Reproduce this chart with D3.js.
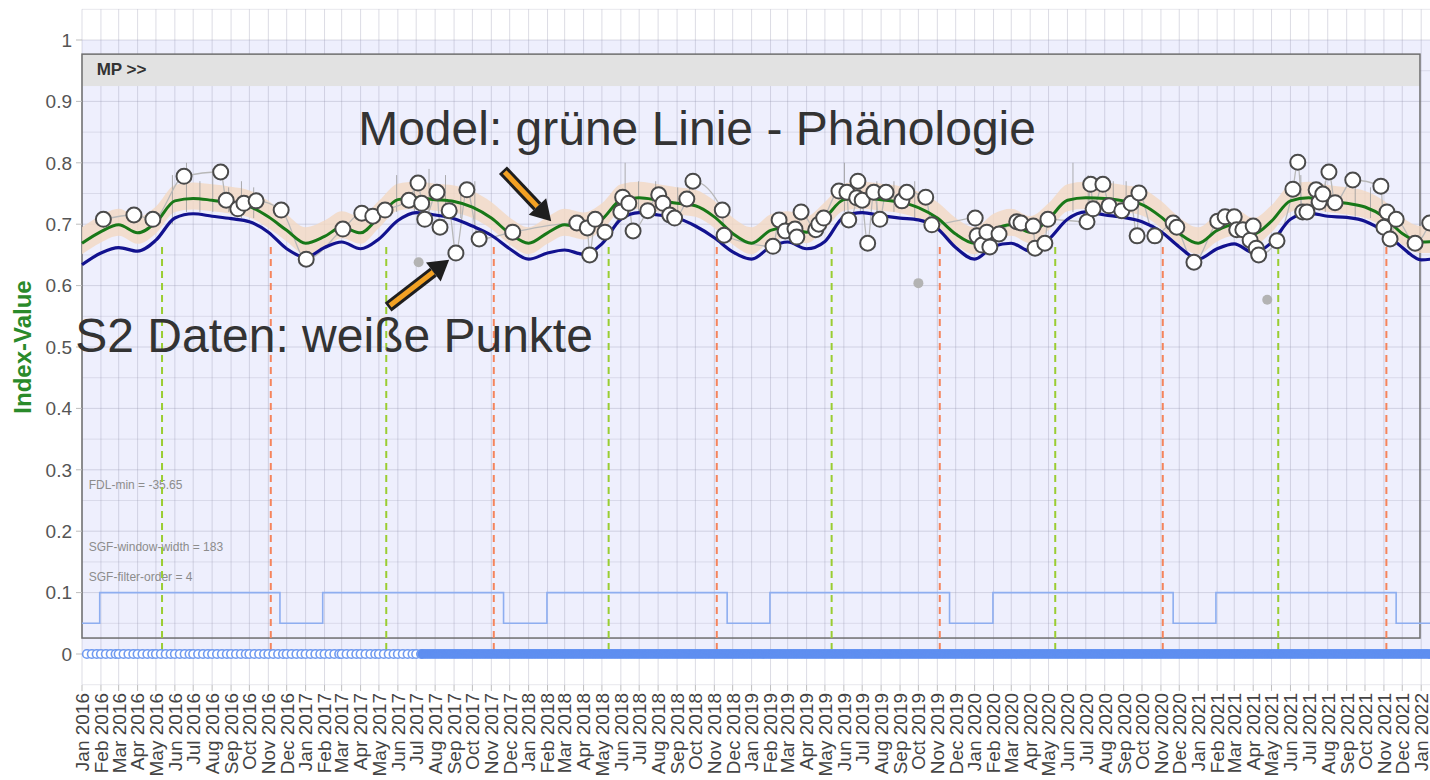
<!DOCTYPE html>
<html>
<head>
<meta charset="utf-8">
<script src="https://cdn.jsdelivr.net/npm/d3@7"></script>
<style>
  body { margin: 0; background: #fff; }
  svg { display: block; font-family: "Liberation Sans", Arial, sans-serif; }
</style>
</head>
<body>
<div id="chart"></div>
<script>
// ---- data ----
const curveStart = "2016-01-01";   // first month of the monthly model values

const bluePheno = [
  0.634, 0.653, 0.662, 0.656, 0.674, 0.710, 0.717, 0.713, 0.709, 0.704, 0.687, 0.660,
  0.646, 0.662, 0.671, 0.660, 0.676, 0.706, 0.719, 0.715, 0.709, 0.697, 0.682, 0.660,
  0.643, 0.653, 0.658, 0.651, 0.668, 0.708, 0.719, 0.715, 0.710, 0.697, 0.678, 0.655,
  0.643, 0.663, 0.671, 0.660, 0.672, 0.712, 0.719, 0.714, 0.710, 0.707, 0.693, 0.662,
  0.643, 0.664, 0.669, 0.656, 0.675, 0.708, 0.720, 0.715, 0.711, 0.704, 0.688, 0.663,
  0.643, 0.660, 0.668, 0.654, 0.670, 0.708, 0.718, 0.713, 0.711, 0.705, 0.688, 0.662,
  0.642, 0.645
];

const greenModel = [
  0.669, 0.688, 0.699, 0.686, 0.703, 0.738, 0.742, 0.739, 0.735, 0.729, 0.712, 0.690,
  0.669, 0.680, 0.695, 0.686, 0.712, 0.740, 0.743, 0.740, 0.737, 0.728, 0.710, 0.685,
  0.669, 0.686, 0.699, 0.693, 0.708, 0.739, 0.743, 0.739, 0.734, 0.730, 0.712, 0.685,
  0.669, 0.690, 0.695, 0.687, 0.710, 0.740, 0.743, 0.740, 0.736, 0.727, 0.710, 0.684,
  0.669, 0.691, 0.699, 0.687, 0.708, 0.739, 0.743, 0.742, 0.738, 0.732, 0.712, 0.685,
  0.669, 0.690, 0.699, 0.684, 0.705, 0.738, 0.743, 0.738, 0.734, 0.728, 0.712, 0.685,
  0.671, 0.672
];

const bandUpper = [
  0.695, 0.714, 0.725, 0.712, 0.729, 0.764, 0.768, 0.765, 0.761, 0.755, 0.738, 0.716,
  0.695, 0.706, 0.721, 0.712, 0.738, 0.766, 0.769, 0.766, 0.763, 0.754, 0.736, 0.711,
  0.695, 0.712, 0.725, 0.719, 0.734, 0.765, 0.769, 0.765, 0.760, 0.756, 0.738, 0.711,
  0.695, 0.716, 0.721, 0.713, 0.736, 0.766, 0.769, 0.766, 0.762, 0.753, 0.736, 0.710,
  0.695, 0.717, 0.725, 0.713, 0.734, 0.765, 0.769, 0.768, 0.764, 0.758, 0.738, 0.711,
  0.695, 0.716, 0.725, 0.710, 0.731, 0.764, 0.769, 0.764, 0.760, 0.754, 0.738, 0.711,
  0.697, 0.698
];

const bandLower = [
  0.651, 0.670, 0.681, 0.668, 0.685, 0.720, 0.724, 0.721, 0.717, 0.711, 0.694, 0.672,
  0.651, 0.662, 0.677, 0.668, 0.694, 0.722, 0.725, 0.722, 0.719, 0.710, 0.692, 0.667,
  0.651, 0.668, 0.681, 0.675, 0.690, 0.721, 0.725, 0.721, 0.716, 0.712, 0.694, 0.667,
  0.651, 0.672, 0.677, 0.669, 0.692, 0.722, 0.725, 0.722, 0.718, 0.709, 0.692, 0.666,
  0.651, 0.673, 0.681, 0.669, 0.690, 0.721, 0.725, 0.724, 0.720, 0.714, 0.694, 0.667,
  0.651, 0.672, 0.681, 0.666, 0.687, 0.720, 0.725, 0.720, 0.716, 0.710, 0.694, 0.667,
  0.653, 0.654
];

// Sentinel-2 observations (white points)
const s2Points = [
  ["2016-02-05",0.708],["2016-03-26",0.715],["2016-04-26",0.708],["2016-06-16",0.778],
  ["2016-08-15",0.785],["2016-08-24",0.739],["2016-09-12",0.725],["2016-09-22",0.734],
  ["2016-10-12",0.738],["2016-11-22",0.723],["2017-01-02",0.643],["2017-03-03",0.692],
  ["2017-04-03",0.718],["2017-04-21",0.713],["2017-05-11",0.723],["2017-06-19",0.739],
  ["2017-07-04",0.767],["2017-07-10",0.734],["2017-07-15",0.708],["2017-08-04",0.752],
  ["2017-08-09",0.695],["2017-08-24",0.722],["2017-09-04",0.653],["2017-09-22",0.756],
  ["2017-10-12",0.676],["2017-12-06",0.687],["2018-03-21",0.702],["2018-04-07",0.694],
  ["2018-04-11",0.650],["2018-04-20",0.708],["2018-05-06",0.687],["2018-06-01",0.720],
  ["2018-06-04",0.744],["2018-06-14",0.734],["2018-06-21",0.689],["2018-07-15",0.722],
  ["2018-08-02",0.748],["2018-08-09",0.734],["2018-08-20",0.715],["2018-08-28",0.710],
  ["2018-09-17",0.741],["2018-09-27",0.770],["2018-11-14",0.723],["2018-11-17",0.682],
  ["2019-02-05",0.664],["2019-02-15",0.707],["2019-02-25",0.689],["2019-03-13",0.692],
  ["2019-03-16",0.679],["2019-03-23",0.720],["2019-04-16",0.691],["2019-04-21",0.700],
  ["2019-04-29",0.710],["2019-05-24",0.754],["2019-06-06",0.752],["2019-06-09",0.707],
  ["2019-06-22",0.743],["2019-06-24",0.770],["2019-07-01",0.739],["2019-07-10",0.669],
  ["2019-07-20",0.752],["2019-07-30",0.708],["2019-08-09",0.752],["2019-09-04",0.738],
  ["2019-09-12",0.752],["2019-10-13",0.744],["2019-10-23",0.699],["2020-01-02",0.710],
  ["2020-01-05",0.681],["2020-01-13",0.666],["2020-01-21",0.687],["2020-01-26",0.663],
  ["2020-02-10",0.684],["2020-03-10",0.704],["2020-03-17",0.702],["2020-04-06",0.697],
  ["2020-04-09",0.661],["2020-04-25",0.669],["2020-04-30",0.708],["2020-07-03",0.704],
  ["2020-07-09",0.765],["2020-07-13",0.725],["2020-07-29",0.765],["2020-08-08",0.730],
  ["2020-08-29",0.722],["2020-09-13",0.734],["2020-09-23",0.681],["2020-09-26",0.751],
  ["2020-10-22",0.681],["2020-11-21",0.702],["2020-11-27",0.695],["2020-12-25",0.638],
  ["2021-02-02",0.705],["2021-02-14",0.712],["2021-03-01",0.712],["2021-03-05",0.691],
  ["2021-03-15",0.691],["2021-03-27",0.674],["2021-04-01",0.697],["2021-04-06",0.661],
  ["2021-04-10",0.650],["2021-05-10",0.673],["2021-06-05",0.757],["2021-06-13",0.801],
  ["2021-06-21",0.720],["2021-06-28",0.720],["2021-07-13",0.756],["2021-07-18",0.736],
  ["2021-07-24",0.749],["2021-08-03",0.785],["2021-08-13",0.735],["2021-09-11",0.772],
  ["2021-10-27",0.762],["2021-11-01",0.695],["2021-11-06",0.720],["2021-11-11",0.676],
  ["2021-11-21",0.708],["2021-12-22",0.669],["2022-01-15",0.702]
];

// rejected observations (grey dots)
const outliers = [["2017-07-05",0.638],["2019-10-01",0.604],["2021-04-24",0.577]];

// spikes of the daily raw series: [date, low, high]
const rawSpikes = [
  ["2016-05-28",0.70,0.78],["2016-06-20",0.72,0.80],["2016-07-12",0.72,0.77],["2016-08-02",0.72,0.79],
  ["2016-08-28",0.72,0.76],["2016-09-18",0.71,0.77],["2016-10-08",0.71,0.76],
  ["2017-05-30",0.72,0.78],["2017-06-28",0.72,0.77],["2017-07-22",0.72,0.79],["2017-08-18",0.72,0.78],
  ["2017-09-12",0.71,0.76],["2017-10-05",0.70,0.77],
  ["2018-06-08",0.72,0.80],["2018-06-30",0.72,0.77],["2018-07-28",0.72,0.77],["2018-09-02",0.71,0.76],
  ["2019-06-02",0.72,0.80],["2019-06-28",0.72,0.78],["2019-07-25",0.72,0.77],["2019-08-22",0.72,0.77],
  ["2019-09-25",0.71,0.77],
  ["2020-06-10",0.72,0.80],["2020-07-05",0.72,0.78],["2020-08-15",0.72,0.77],["2020-09-05",0.72,0.77],
  ["2021-06-18",0.72,0.78],["2021-07-28",0.72,0.77],["2021-09-15",0.71,0.77],["2021-10-10",0.71,0.76]
];

// season start (green) and end (red) markers
const sosDates = ["2016-05-11","2017-05-13","2018-05-12","2019-05-12","2020-05-12","2021-05-12"];
const eosDates = ["2016-11-05","2017-11-05","2018-11-05","2019-11-05","2020-11-04","2021-11-05"];
const markerTop = 0.663;

// growing season flag (step line)
const flagDates  = ["2016-01-01","2016-01-30","2016-11-20","2017-01-29","2017-11-21","2018-01-31",
                    "2018-11-22","2019-01-31","2019-11-21","2020-01-31","2020-11-21","2021-01-30",
                    "2021-11-21","2022-02-15"];
const flagValues = [0.05, 0.1, 0.05, 0.1, 0.05, 0.1, 0.05, 0.1, 0.05, 0.1, 0.05, 0.1, 0.05, 0.05];

// zero-row observation markers
const sparseObs = { from: "2016-01-03", to: "2017-07-10", everyDays: 8 };
const denseObs  = { from: "2017-07-10", to: "2022-02-15" };

const yTicks = [0, 0.1, 0.2, 0.3, 0.4, 0.5, 0.6, 0.7, 0.8, 0.9, 1];
const paramLabels = [
  ["FDL-min = -35.65", 0.269],
  ["SGF-window-width = 183", 0.168],
  ["SGF-filter-order = 4", 0.119]
];

// ---- chart ----
const width = 1430, height = 780;
const parse = d3.timeParse("%Y-%m-%d");

const x = d3.scaleTime()
  .domain([new Date(2016, 0, 1), new Date(2022, 0, 1)])
  .range([82, 1421.2]);

const y = d3.scaleLinear()
  .domain([-0.05, 1.05])
  .range([684.7, 9.3]);

const svg = d3.select("#chart")
  .append("svg")
  .attr("width", width)
  .attr("height", height)
  .attr("viewBox", [0, 0, width, height]);

const months = d3.timeMonth.range(parse(curveStart), new Date(2022, 2, 1));
const plotRight = width + 20;

// lavender background between 0 and 1
svg.append("rect")
  .attr("x", x(months[0]))
  .attr("y", y(1))
  .attr("width", plotRight - x(months[0]))
  .attr("height", y(0) - y(1))
  .attr("fill", "#eeeffd");

// grid
const grid = svg.append("g").attr("stroke", "rgba(140,140,165,0.3)").attr("stroke-width", 1);
grid.selectAll(".h")
  .data(d3.range(-0.05, 1.0501, 0.05))
  .join("line")
  .attr("x1", x(months[0])).attr("x2", plotRight)
  .attr("y1", d => y(d)).attr("y2", d => y(d))
  .attr("stroke-opacity", (d, i) => i % 2 === 1 ? 1 : 0.7);
grid.selectAll(".v")
  .data(months)
  .join("line")
  .attr("x1", d => x(d)).attr("x2", d => x(d))
  .attr("y1", y(1.05)).attr("y2", y(-0.05));

// facet box with strip
const boxLeft = x(parse("2016-01-01")), boxRight = x(parse("2021-12-30"));
svg.append("rect")
  .attr("x", boxLeft).attr("y", y(0.977))
  .attr("width", boxRight - boxLeft).attr("height", y(0.925) - y(0.977))
  .attr("fill", "#e2e2e2");
svg.append("rect")
  .attr("x", boxLeft).attr("y", y(0.977))
  .attr("width", boxRight - boxLeft).attr("height", y(0.026) - y(0.977))
  .attr("fill", "none").attr("stroke", "#6e6e6e").attr("stroke-width", 1.5);
svg.append("text")
  .attr("x", x(parse("2016-01-25"))).attr("y", y(0.943))
  .attr("font-size", 17).attr("font-weight", "bold").attr("fill", "#333")
  .text("MP >>");

// parameter labels
svg.append("g").selectAll("text")
  .data(paramLabels)
  .join("text")
  .attr("x", x(parse("2016-01-12")))
  .attr("y", d => y(d[1]))
  .attr("font-size", 12).attr("fill", "#8c8c8c")
  .text(d => d[0]);

// y axis
const yAxis = svg.append("g");
yAxis.selectAll("line")
  .data(yTicks).join("line")
  .attr("x1", 76).attr("x2", 82)
  .attr("y1", d => y(d)).attr("y2", d => y(d))
  .attr("stroke", "#bdbdbd");
yAxis.selectAll("text")
  .data(yTicks).join("text")
  .attr("x", 72).attr("y", d => y(d)).attr("dy", "0.36em")
  .attr("text-anchor", "end").attr("font-size", 19).attr("fill", "#555")
  .text(d => d3.format("~g")(d));

svg.append("text")
  .attr("transform", `translate(31,${y(0.5)}) rotate(-90)`)
  .attr("text-anchor", "middle")
  .attr("font-size", 24).attr("font-weight", "bold").attr("fill", "#2a8a2a")
  .text("Index-Value");

// x axis
const xAxis = svg.append("g");
const tickMonths = months.filter(d => d <= new Date(2022, 0, 1));
xAxis.selectAll("line")
  .data(tickMonths).join("line")
  .attr("x1", d => x(d)).attr("x2", d => x(d))
  .attr("y1", 685).attr("y2", 691)
  .attr("stroke", "#bdbdbd");
xAxis.selectAll("text")
  .data(tickMonths).join("text")
  .attr("transform", d => `translate(${x(d)},693) rotate(-90)`)
  .attr("dy", "0.36em").attr("text-anchor", "end")
  .attr("font-size", 19).attr("fill", "#444")
  .text(d3.timeFormat("%b %Y"));

// step flag line
const flagData = flagDates.map((d, i) => ({ date: parse(d), value: flagValues[i] }));
svg.append("path")
  .datum(flagData)
  .attr("fill", "none").attr("stroke", "#8eaef0").attr("stroke-width", 1.6)
  .attr("d", d3.line().x(d => x(d.date)).y(d => y(d.value)).curve(d3.curveStepAfter));

// season markers
const markers = svg.append("g").attr("stroke-width", 2).attr("stroke-dasharray", "7,5");
markers.selectAll(".sos")
  .data(sosDates).join("line")
  .attr("stroke", "#9acd32")
  .attr("x1", d => x(parse(d))).attr("x2", d => x(parse(d)))
  .attr("y1", y(markerTop)).attr("y2", y(0));
markers.selectAll(".eos")
  .data(eosDates).join("line")
  .attr("stroke", "#f5845c")
  .attr("x1", d => x(parse(d))).attr("x2", d => x(parse(d)))
  .attr("y1", y(markerTop)).attr("y2", y(0));

// model band and curves
const curveData = months.slice(0, greenModel.length).map((m, i) => ({
  date: m, green: greenModel[i], blue: bluePheno[i], lo: bandLower[i], hi: bandUpper[i]
}));

svg.append("path")
  .datum(curveData)
  .attr("fill", "#f3d8c2").attr("fill-opacity", 0.8)
  .attr("d", d3.area().x(d => x(d.date)).y0(d => y(d.lo)).y1(d => y(d.hi)).curve(d3.curveMonotoneX));

const s2 = s2Points.map(d => ({ date: parse(d[0]), value: d[1] }));

svg.append("g")
  .attr("stroke", "#9a9a9a").attr("stroke-width", 1).attr("stroke-opacity", 0.8)
  .selectAll("line")
  .data(rawSpikes).join("line")
  .attr("x1", d => x(parse(d[0]))).attr("x2", d => x(parse(d[0])))
  .attr("y1", d => y(d[1])).attr("y2", d => y(d[2]));

svg.append("path")
  .datum(s2)
  .attr("fill", "none").attr("stroke", "#b8b8b8").attr("stroke-width", 1.3)
  .attr("d", d3.line().x(d => x(d.date)).y(d => y(d.value)).curve(d3.curveMonotoneX));

svg.append("path")
  .datum(curveData)
  .attr("fill", "none").attr("stroke", "#187818").attr("stroke-width", 3)
  .attr("d", d3.line().x(d => x(d.date)).y(d => y(d.green)).curve(d3.curveMonotoneX));

svg.append("path")
  .datum(curveData)
  .attr("fill", "none").attr("stroke", "#12128f").attr("stroke-width", 3.2)
  .attr("d", d3.line().x(d => x(d.date)).y(d => y(d.blue)).curve(d3.curveMonotoneX));

// outliers
svg.append("g").selectAll("circle")
  .data(outliers).join("circle")
  .attr("cx", d => x(parse(d[0]))).attr("cy", d => y(d[1]))
  .attr("r", 5).attr("fill", "#b3b3b3");

// S2 points
svg.append("g").selectAll("circle")
  .data(s2).join("circle")
  .attr("cx", d => x(d.date)).attr("cy", d => y(d.value))
  .attr("r", 7.5).attr("fill", "#fff").attr("stroke", "#4a4a4a").attr("stroke-width", 2);

// observation row at 0
const sparseDays = d3.timeDay.every(sparseObs.everyDays).range(parse(sparseObs.from), parse(sparseObs.to));
const denseDays = d3.timeDay.range(parse(denseObs.from), parse(denseObs.to));
const obsRow = svg.append("g").attr("stroke", "#6f9af0").attr("stroke-width", 1.6);
obsRow.selectAll(".sparse")
  .data(sparseDays).join("circle")
  .attr("cx", d => x(d)).attr("cy", y(0)).attr("r", 4.3)
  .attr("fill", "#fff");
obsRow.selectAll(".dense")
  .data(denseDays).join("circle")
  .attr("cx", d => x(d)).attr("cy", y(0)).attr("r", 3.6)
  .attr("fill", "none").attr("stroke", "#5f8ff0");

// annotations
svg.append("text")
  .attr("x", x(parse("2017-03-28"))).attr("y", y(0.829))
  .attr("font-size", 48).attr("fill", "#333")
  .text("Model: grüne Linie - Phänologie");
svg.append("text")
  .attr("x", x(parse("2015-12-21"))).attr("y", y(0.492))
  .attr("font-size", 48).attr("fill", "#333")
  .text("S2 Daten: weiße Punkte");

const arrows = [
  { from: ["2017-11-20", 0.788], to: ["2018-02-07", 0.705] },
  { from: ["2017-05-16", 0.565], to: ["2017-08-24", 0.642] }
];
const arrowG = svg.append("g");
arrows.forEach(a => {
  const x0 = x(parse(a.from[0])), y0 = y(a.from[1]);
  const x1 = x(parse(a.to[0])), y1 = y(a.to[1]);
  const ang = Math.atan2(y1 - y0, x1 - x0);
  const headLen = 20, headW = 12;
  const bx = x1 - headLen * Math.cos(ang), by = y1 - headLen * Math.sin(ang);
  const nx = -Math.sin(ang), ny = Math.cos(ang);
  arrowG.append("line")
    .attr("x1", x0).attr("y1", y0).attr("x2", bx).attr("y2", by)
    .attr("stroke", "#1e1e1e").attr("stroke-width", 11);
  arrowG.append("line")
    .attr("x1", x0 + 2.5 * Math.cos(ang)).attr("y1", y0 + 2.5 * Math.sin(ang))
    .attr("x2", bx).attr("y2", by)
    .attr("stroke", "#f2a124").attr("stroke-width", 5);
  arrowG.append("path")
    .attr("d", `M${x1},${y1}L${bx + headW * nx},${by + headW * ny}L${bx - headW * nx},${by - headW * ny}Z`)
    .attr("fill", "#1e1e1e");
});
</script>
</body>
</html>
